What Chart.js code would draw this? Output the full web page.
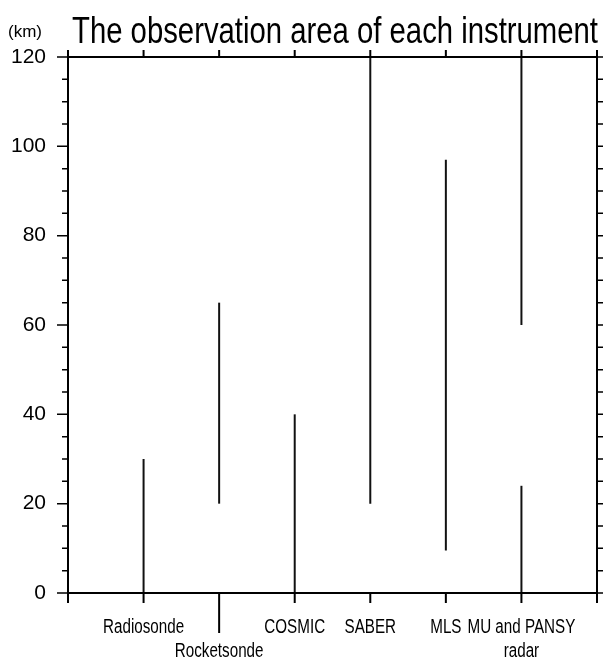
<!DOCTYPE html>
<html>
<head>
<meta charset="utf-8">
<script src="https://cdn.jsdelivr.net/npm/chart.js@4"></script>
<style>
  html, body { margin: 0; padding: 0; background: #fff; }
  canvas { display: block; }
</style>
</head>
<body>
<canvas id="c" width="603" height="661"></canvas>
<script>
// ---- data ----
const titleText = 'The observation area of each instrument';
const unitText = '(km)';
const categories = ['Radiosonde', 'Rocketsonde', 'COSMIC', 'SABER', 'MLS', 'MU and PANSY radar'];
const categoryLabels = [['Radiosonde'], ['', 'Rocketsonde'], ['COSMIC'], ['SABER'], ['MLS'], ['MU and PANSY', 'radar']];
const segCategory = [1, 2, 3, 4, 5, 6, 6];        // position on x axis (1..6)
const segLow  = [0, 20, 0, 20, 9.5, 0, 60];        // km
const segHigh = [30, 65, 40, 120, 97, 24, 120];    // km
const yTicks = [0, 20, 40, 60, 80, 100, 120];

const SANS = "'Liberation Sans', Arial, sans-serif";

const datasets = segCategory.map((c, i) => ({
  label: categories[c - 1],
  data: [{ x: c, y: segLow[i] }, { x: c, y: segHigh[i] }],
  borderColor: '#111',
  borderWidth: 2,
  pointRadius: 0,
  showLine: true,
  fill: false,
  tension: 0
}));

function squeezeText(ctx, text, x, y, sx, align) {
  const w = ctx.measureText(text).width * sx;
  let left = x;
  if (align === 'center') left = x - w / 2;
  else if (align === 'right') left = x - w;
  ctx.save();
  ctx.translate(left, y);
  ctx.scale(sx, 1);
  ctx.textAlign = 'left';
  ctx.fillText(text, 0, 0);
  ctx.restore();
}

const framePlugin = {
  id: 'frame',
  afterDraw(chart) {
    const ctx = chart.ctx;
    const a = chart.chartArea;
    const xs = chart.scales.x, ys = chart.scales.y;
    ctx.save();
    ctx.strokeStyle = '#000';
    ctx.lineCap = 'butt';
    // frame
    ctx.lineWidth = 2;
    ctx.strokeRect(a.left, a.top, a.right - a.left, a.bottom - a.top);
    // y ticks (left & right)
    ctx.lineWidth = 1.5;
    for (let v = 0; v <= 120; v += 5) {
      const y = ys.getPixelForValue(v);
      const major = v % 20 === 0;
      ctx.beginPath();
      ctx.moveTo(a.left - (major ? 11 : 6), y);
      ctx.lineTo(a.left, y);
      ctx.moveTo(a.right, y);
      ctx.lineTo(a.right + 6, y);
      ctx.stroke();
    }
    // x ticks (top & bottom)
    ctx.lineWidth = 2;
    for (let v = 0; v <= 7; v++) {
      const x = xs.getPixelForValue(v);
      ctx.beginPath();
      ctx.moveTo(x, a.top - 7);
      ctx.lineTo(x, a.top);
      ctx.moveTo(x, a.bottom);
      ctx.lineTo(x, a.bottom + (v === 2 ? 40 : 10));
      ctx.stroke();
    }
    ctx.fillStyle = '#000';
    // x category labels
    ctx.font = '20px ' + SANS;
    ctx.textBaseline = 'middle';
    xs.ticks.forEach(t => {
      const lines = categoryLabels[t.value - 1] || [];
      const x = xs.getPixelForValue(t.value);
      lines.forEach((ln, k) => {
        if (ln) squeezeText(ctx, ln, x, a.bottom + 34 + k * 24, 0.76, 'center');
      });
    });
    // title
    ctx.textBaseline = 'alphabetic';
    ctx.font = '37px ' + SANS;
    const w = ctx.measureText(titleText).width;
    squeezeText(ctx, titleText, 72, 43, 526 / w, 'left');
    // unit
    ctx.font = '17px ' + SANS;
    const uw = ctx.measureText(unitText).width;
    squeezeText(ctx, unitText, 8, 37, 34 / uw, 'left');
    ctx.restore();
  }
};

new Chart(document.getElementById('c'), {
  type: 'line',
  data: { datasets },
  options: {
    responsive: false,
    animation: false,
    events: [],
    layout: { padding: { top: 57, right: 6, left: 0, bottom: 0 } },
    plugins: { legend: { display: false }, tooltip: { enabled: false }, title: { display: false } },
    scales: {
      x: {
        type: 'linear',
        min: 0, max: 7,
        afterBuildTicks(scale) {
          scale.ticks = segCategory.filter((v, i, arr) => arr.indexOf(v) === i).map(v => ({ value: v }));
        },
        afterFit(scale) { scale.height = 68; },
        grid: { display: false, drawTicks: false },
        border: { display: false },
        ticks: { display: false }
      },
      y: {
        type: 'linear',
        min: 0, max: 120,
        afterBuildTicks(scale) { scale.ticks = yTicks.map(v => ({ value: v })); },
        afterFit(scale) { scale.width = 68; },
        grid: { display: false, drawTicks: false },
        border: { display: false },
        ticks: {
          padding: 22,
          color: '#000',
          font: { family: SANS, size: 21 }
        }
      }
    }
  },
  plugins: [framePlugin]
});
</script>
</body>
</html>
